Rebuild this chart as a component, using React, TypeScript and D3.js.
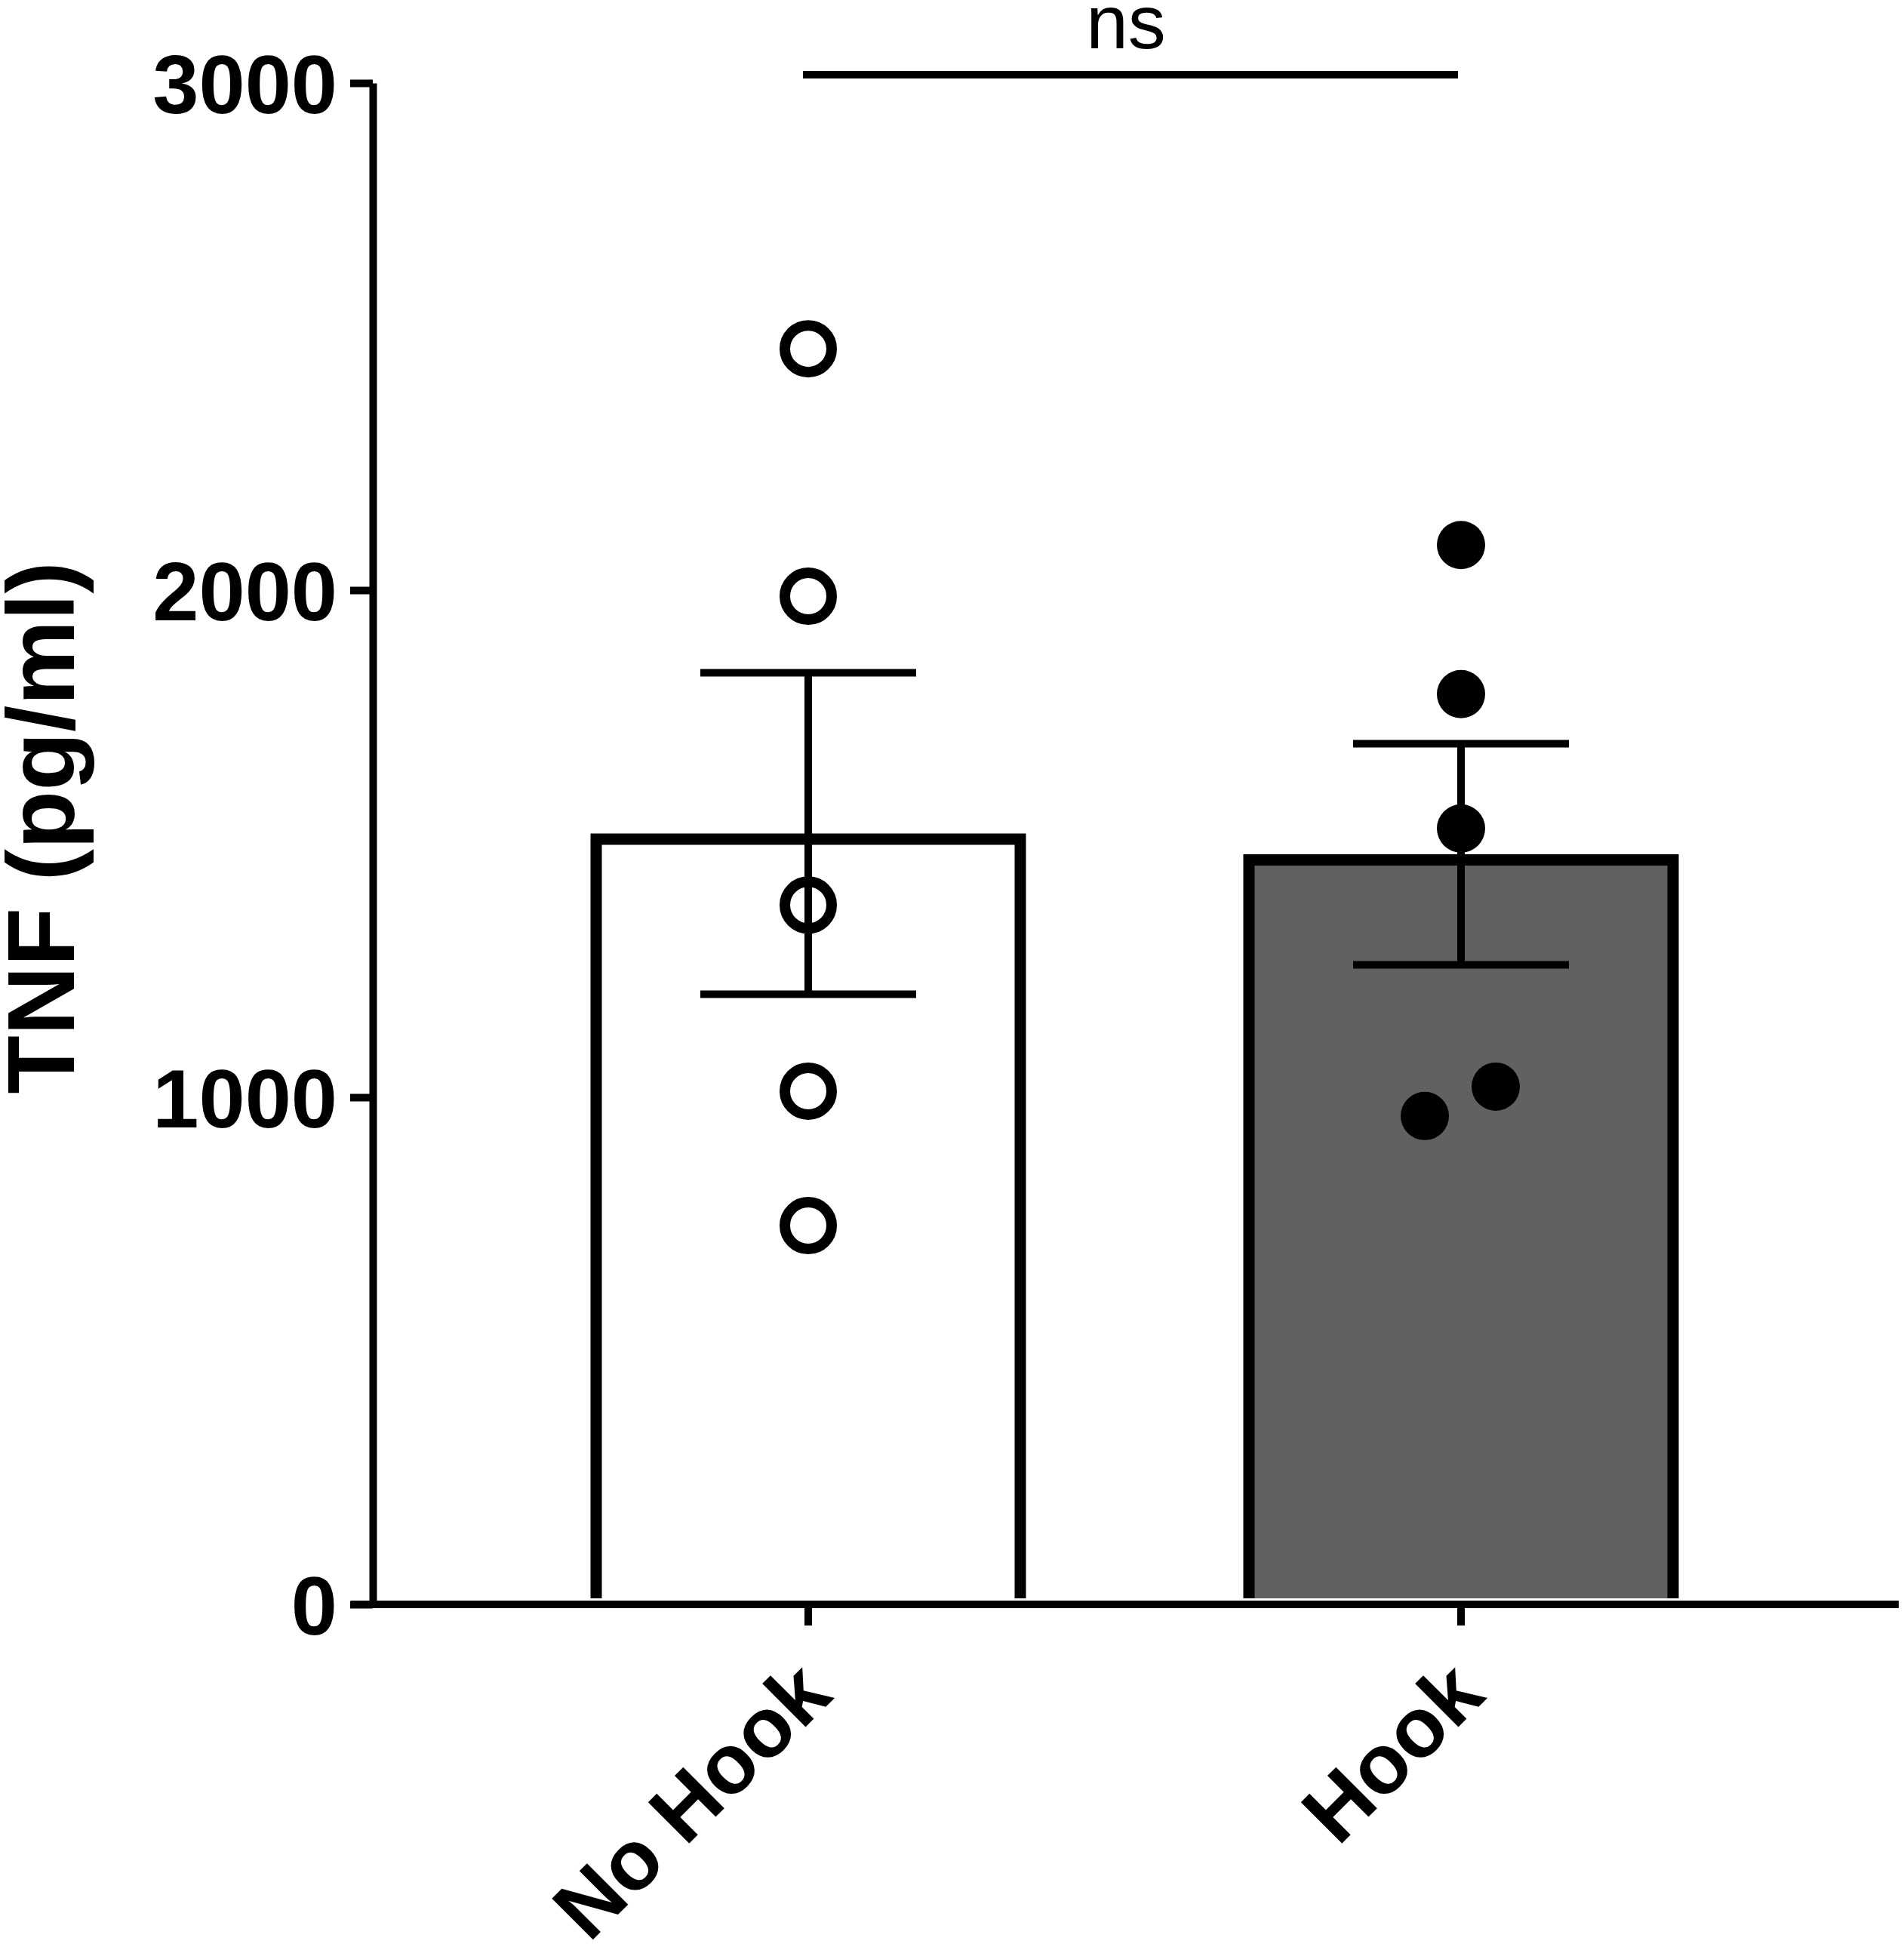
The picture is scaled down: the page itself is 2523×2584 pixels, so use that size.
import { select, scaleLinear, scalePoint, axisLeft } from "d3";
import React, { useEffect, useRef } from "react";

// data
const categories = ["No Hook", "Hook"];
const noHookValues = [2476, 1988, 1379, 1012, 747];
const hookValues = [2089, 1795, 1530, 1021, 963];
const barMeans = [1520, 1479];
const barSem = [317, 218];
const yTicks = [0, 1000, 2000, 3000];
const sigLabel = "ns";

// small horizontal jitter (px) for the dots, as drawn in the figure
const noHookJitter = [0, 0, 0, 0, 0];
const hookJitter = [0, 0, 0, 46, -48];

const W = 2523;
const H = 2584;
const FONT = "'Liberation Sans', Arial, Helvetica, sans-serif";

const App = () => {
  const ref = useRef<SVGSVGElement>(null);

  useEffect(() => {
    if (!ref.current) return;
    const svg = select(ref.current);
    svg.selectAll("*").remove();

    // scales
    const y = scaleLinear().domain([0, 3000]).range([2126, 110]);
    const x = scalePoint<string>().domain(categories).range([1071, 1936]);
    const barWidth = 562;
    const barStroke = 15;
    const capHalf = 143;

    const g = svg.append("g").attr("font-family", FONT);

    // bars: the value sits at the outer edge of the border (stroke drawn inside)
    const fills = ["#ffffff", "#616161"];
    categories.forEach((c, i) => {
      const cx = x(c)!;
      const l = cx - barWidth / 2;
      const r = cx + barWidth / 2;
      const top = y(barMeans[i]) + barStroke / 2;
      const bottom = y(0) - 8;
      g.append("rect")
        .attr("x", l)
        .attr("y", top)
        .attr("width", barWidth)
        .attr("height", bottom - top)
        .attr("fill", fills[i]);
      g.append("path")
        .attr("d", `M${l},${bottom}V${top}H${r}V${bottom}`)
        .attr("fill", "none")
        .attr("stroke", "#000")
        .attr("stroke-width", barStroke)
        .attr("stroke-linejoin", "miter");
    });

    // error bars (mean ± SEM)
    categories.forEach((c, i) => {
      const cx = x(c)!;
      const hi = y(barMeans[i] + barSem[i]);
      const lo = y(barMeans[i] - barSem[i]);
      const eg = g.append("g").attr("stroke", "#000").attr("stroke-width", 10);
      eg.append("line").attr("x1", cx).attr("x2", cx).attr("y1", hi).attr("y2", lo);
      eg.append("line").attr("x1", cx - capHalf).attr("x2", cx + capHalf).attr("y1", hi).attr("y2", hi);
      eg.append("line").attr("x1", cx - capHalf).attr("x2", cx + capHalf).attr("y1", lo).attr("y2", lo);
    });

    // dots
    g.selectAll(".open")
      .data(noHookValues)
      .enter()
      .append("circle")
      .attr("class", "open")
      .attr("cx", (_d, i) => x(categories[0])! + noHookJitter[i])
      .attr("cy", (d) => y(d))
      .attr("r", 31)
      .attr("fill", "none")
      .attr("stroke", "#000")
      .attr("stroke-width", 14);

    g.selectAll(".filled")
      .data(hookValues)
      .enter()
      .append("circle")
      .attr("class", "filled")
      .attr("cx", (_d, i) => x(categories[1])! + hookJitter[i])
      .attr("cy", (d) => y(d))
      .attr("r", 32)
      .attr("fill", "#000");

    // y axis
    const yAxis = g
      .append("g")
      .attr("transform", "translate(494,0)")
      .call(
        axisLeft(y)
          .tickValues(yTicks)
          .tickSize(30)
          .tickSizeOuter(0)
          .tickPadding(17)
          .tickFormat((d) => String(d))
      );
    yAxis.select(".domain").attr("stroke-width", 10).attr("stroke", "#000");
    yAxis.selectAll(".tick line").attr("stroke-width", 10).attr("stroke", "#000");
    yAxis
      .selectAll(".tick text")
      .attr("font-family", FONT)
      .attr("font-size", 110)
      .attr("font-weight", "bold")
      .attr("fill", "#000")
      .attr("dy", "0.36em");

    // x axis line + ticks
    g.append("line")
      .attr("x1", 465)
      .attr("x2", 2516)
      .attr("y1", y(0))
      .attr("y2", y(0))
      .attr("stroke", "#000")
      .attr("stroke-width", 10);

    categories.forEach((c) => {
      const cx = x(c)!;
      g.append("line")
        .attr("x1", cx)
        .attr("x2", cx)
        .attr("y1", y(0))
        .attr("y2", y(0) + 28)
        .attr("stroke", "#000")
        .attr("stroke-width", 10);
      g.append("text")
        .attr("transform", `translate(${cx + 35},${y(0) + 124}) rotate(-45)`)
        .attr("text-anchor", "end")
        .attr("font-size", 112)
        .attr("font-weight", "bold")
        .attr("fill", "#000")
        .text(c);
    });

    // y title
    g.append("text")
      .attr("transform", "translate(98,1097) rotate(-90)")
      .attr("text-anchor", "middle")
      .attr("font-size", 127)
      .attr("font-weight", "bold")
      .attr("fill", "#000")
      .text("TNF (pg/ml)");

    // significance bar
    const x0 = x(categories[0])! - 7;
    const x1 = x(categories[1])! - 4;
    g.append("line")
      .attr("x1", x0)
      .attr("x2", x1)
      .attr("y1", 99)
      .attr("y2", 99)
      .attr("stroke", "#000")
      .attr("stroke-width", 10);
    g.append("text")
      .attr("x", (x0 + x1) / 2 - 6)
      .attr("y", 64)
      .attr("text-anchor", "middle")
      .attr("font-size", 100)
      .attr("fill", "#000")
      .text(sigLabel);
  }, []);

  return (
    <svg
      ref={ref}
      width={W}
      height={H}
      viewBox={`0 0 ${W} ${H}`}
      style={{ position: "absolute", left: 0, top: 0, background: "#fff" }}
    ></svg>
  );
};

export default App;
